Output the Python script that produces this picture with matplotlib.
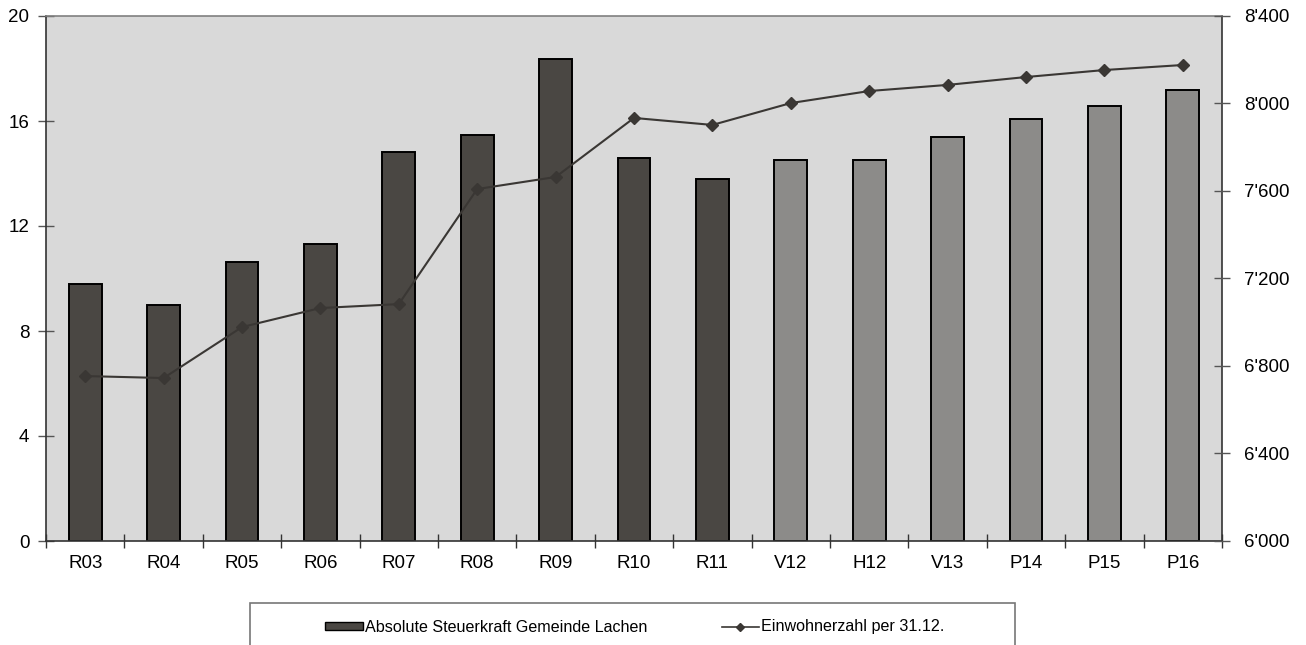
import matplotlib
matplotlib.use("Agg")
import matplotlib.pyplot as plt
from matplotlib.patches import Rectangle
from matplotlib.ticker import FuncFormatter, FixedLocator
import numpy as np

categories = ["R03", "R04", "R05", "R06", "R07", "R08", "R09", "R10", "R11",
              "V12", "H12", "V13", "P14", "P15", "P16"]
steuerkraft = [9.8, 9.0, 10.63, 11.31, 14.82, 15.47, 18.36, 14.59, 13.79,
               14.51, 14.51, 15.39, 16.08, 16.57, 17.18]
einwohner = [6754, 6745, 6978, 7065, 7083, 7609, 7664, 7934, 7902,
             8002, 8057, 8085, 8121, 8153, 8176]
n_actual = 9  # R03..R11 are actuals, the rest are budgets/plans

plt.rcParams['font.family'] = ['Liberation Sans', 'DejaVu Sans']

fig = plt.figure(figsize=(13.06, 6.45), dpi=100)
ax = fig.add_axes([46 / 1306, 1 - 541 / 645, 1176 / 1306, 525 / 645])
ax.set_facecolor("#d9d9d9")

x = np.arange(len(categories))
colors = ["#4a4743"] * n_actual + ["#8c8b89"] * (len(categories) - n_actual)
bars = ax.bar(x, steuerkraft, width=0.42, color=colors, edgecolor="black",
              linewidth=1.4, zorder=2)

ax.set_xlim(-0.5, len(categories) - 0.5)
ax.set_ylim(0, 20)
ax.set_yticks([0, 4, 8, 12, 16, 20])
ax.set_xticks(x)
ax.set_xticklabels(categories)
ax.xaxis.set_minor_locator(FixedLocator(np.arange(-0.5, len(categories), 1.0)))
ax.tick_params(axis="x", which="major", length=0, pad=10, labelsize=13.5)
ax.tick_params(axis="x", which="minor", length=10, direction="inout", width=1, color="#333333")
ax.tick_params(axis="y", length=12, direction="inout", width=1, color="#555555",
               labelsize=13.5, pad=6)

for side in ["left", "bottom", "right"]:
    ax.spines[side].set_color("#333333")
    ax.spines[side].set_linewidth(1.2)
ax.spines["top"].set_color("#808080")
ax.spines["top"].set_linewidth(1.2)

ax2 = ax.twinx()
ax2.set_ylim(6000, 8400)
ax2.set_yticks([6000, 6400, 6800, 7200, 7600, 8000, 8400])
ax2.yaxis.set_major_formatter(FuncFormatter(lambda v, p: f"{int(v):,}".replace(",", "'")))
ax2.tick_params(axis="y", length=12, direction="inout", width=1, color="#555555",
                labelsize=13.5, pad=10)
for side in ["left", "bottom", "right", "top"]:
    ax2.spines[side].set_visible(False)
line, = ax2.plot(x, einwohner, color="#3a3734", linewidth=1.5, marker="D",
                 markersize=6, markerfacecolor="#3a3734", markeredgecolor="#3a3734",
                 zorder=3)

# Legend box at the bottom of the figure
fig.patches.append(Rectangle((250 / 1306, -0.05), 765 / 1306, 0.05 + (645 - 603) / 645,
                             transform=fig.transFigure, facecolor="white",
                             edgecolor="#777777", linewidth=1.2))
leg = fig.legend([bars, line], ["Absolute Steuerkraft Gemeinde Lachen", "Einwohnerzahl per 31.12."],
                 loc="center", bbox_to_anchor=(635 / 1306, 1 - 627 / 645), ncol=2,
                 frameon=False, fontsize=11.6, handlelength=2.35, handleheight=0.4,
                 handletextpad=0.12, columnspacing=4.6)
leg.legend_handles[0].set_linewidth(1.0)
leg.legend_handles[1].set_markersize(4)
leg.legend_handles[1].set_linewidth(1.2)

fig.savefig("out.png", dpi=100)
